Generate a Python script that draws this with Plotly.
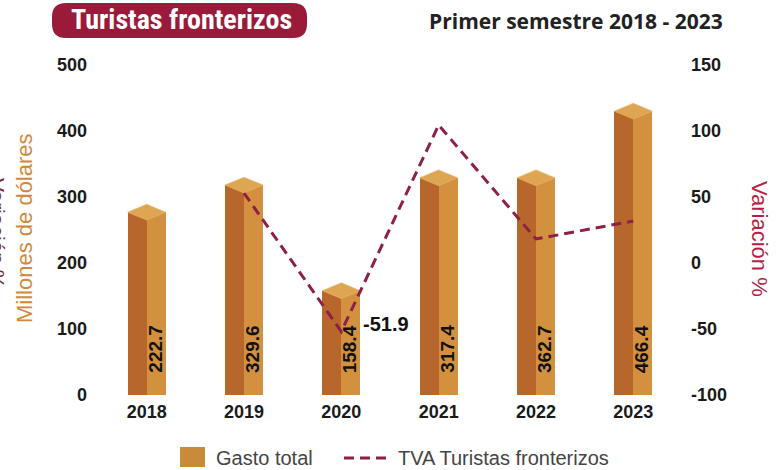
import plotly.graph_objects as go

# ---------------- data ----------------
years = ["2018", "2019", "2020", "2021", "2022", "2023"]
gasto_height = [277, 318, 158, 329, 329, 430]          # bar heights as drawn (left axis)
gasto_labels = ["222.7", "329.6", "158.4", "317.4", "362.7", "466.4"]
tva_years = ["2019", "2020", "2021", "2022", "2023"]
tva_values = [53.0, -51.9, 104.5, 18.2, 31.8]           # right axis, %
tva_label_year = "2020"
tva_label_value = -51.9
left_ticks = [0, 100, 200, 300, 400, 500]
right_ticks = [-100, -50, 0, 50, 100, 150]

# ---------------- geometry helpers ----------------
W, H = 783, 470
L, R, T, B = 98, 682, 65, 395


def px(x):
    return (x - L) / (R - L)


def py(y):
    return (B - y) / (B - T)


xs = list(range(len(years)))
xi = {y: i for i, y in enumerate(years)}
hw = 0.1955      # half bar width in category units
cap_d = 12       # half-height of the top diamond in left-axis units

DARK = "#B7672C"
LIGHT = "#D3903E"
TOP = "#DEA553"
LINE = "#8E1F47"
CRIMSON = "#B81D45"

fig = go.Figure()
fig.add_bar(x=xs, y=gasto_height, width=hw, offset=-hw, marker_color=DARK,
            marker_line_width=0, showlegend=False, hoverinfo="skip")
fig.add_bar(x=xs, y=gasto_height, width=hw, offset=0, marker_color=LIGHT,
            marker_line_width=0, showlegend=False, hoverinfo="skip")

capx, capy = [], []
for i, h in zip(xs, gasto_height):
    capx += [i - hw, i, i + hw, i, i - hw, None]
    capy += [h, h + cap_d, h, h - cap_d, h, None]
fig.add_scatter(x=capx, y=capy, mode="lines", fill="toself", fillcolor=TOP,
                line=dict(width=0.6, color="#E9B66A"), showlegend=False, hoverinfo="skip")

fig.add_scatter(x=[xi[y] for y in tva_years], y=tva_values, yaxis="y2", mode="lines",
                line=dict(color=LINE, width=3, dash="10px,6px"),
                showlegend=False, hoverinfo="skip")

ann = []
for i, lab in zip(xs, gasto_labels):
    ann.append(dict(x=i, y=0, xref="x", yref="y", text=lab, showarrow=False,
                    textangle=-90, xanchor="center", yanchor="bottom",
                    xshift=8, yshift=20,
                    font=dict(family="Liberation Sans", size=19, color="#111", weight="bold")))

ann.append(dict(x=xi[tva_label_year], y=tva_label_value, xref="x", yref="y2",
                text=f"{tva_label_value}", showarrow=False, xanchor="left", yanchor="middle",
                xshift=20, yshift=8,
                font=dict(family="Liberation Sans", size=20, color="#111", weight="bold")))

# axis titles
ann.append(dict(x=px(24), y=py(228), xref="paper", yref="paper", text="Millones de dólares",
                showarrow=False, textangle=-90, xanchor="center", yanchor="middle",
                font=dict(family="Liberation Sans", size=22, color="#D0883A")))
ann.append(dict(x=px(-3), y=py(233), xref="paper", yref="paper", text="Variación %",
                showarrow=False, textangle=90, xanchor="center", yanchor="middle",
                font=dict(family="Liberation Sans", size=21, color="#7B2A3A")))
ann.append(dict(x=px(760), y=py(239), xref="paper", yref="paper", text="Variación %",
                showarrow=False, textangle=90, xanchor="center", yanchor="middle",
                font=dict(family="Liberation Sans", size=22, color=CRIMSON)))

# titles
ann.append(dict(x=px(181), y=py(20), xref="paper", yref="paper", text="Turistas fronterizos",
                showarrow=False, xanchor="center", yanchor="middle",
                font=dict(family="Liberation Sans Narrow, Roboto Condensed, DejaVu Sans Condensed, sans-serif",
                          size=28, color="white", weight="bold")))
ann.append(dict(x=px(576), y=py(21), xref="paper", yref="paper", text="Primer semestre 2018 - 2023",
                showarrow=False, xanchor="center", yanchor="middle",
                font=dict(family="Open Sans", size=21, color="#222", weight="bold")))

# legend (custom)
ann.append(dict(x=px(214), y=py(458), xref="paper", yref="paper", text="Gasto total",
                showarrow=False, xanchor="left", yanchor="middle",
                font=dict(family="Liberation Sans", size=20, color="#444")))
ann.append(dict(x=px(396), y=py(458), xref="paper", yref="paper", text="TVA Turistas fronterizos",
                showarrow=False, xanchor="left", yanchor="middle",
                font=dict(family="Liberation Sans", size=20, color="#444")))

# rounded badge
bx0, bx1, by0, by1, r = 52, 307, 3, 38, 14
path = (f"M {px(bx0 + r)} {py(by0)} L {px(bx1 - r)} {py(by0)} "
        f"Q {px(bx1)} {py(by0)} {px(bx1)} {py(by0 + r)} "
        f"L {px(bx1)} {py(by1 - r)} Q {px(bx1)} {py(by1)} {px(bx1 - r)} {py(by1)} "
        f"L {px(bx0 + r)} {py(by1)} Q {px(bx0)} {py(by1)} {px(bx0)} {py(by1 - r)} "
        f"L {px(bx0)} {py(by0 + r)} Q {px(bx0)} {py(by0)} {px(bx0 + r)} {py(by0)} Z")
shapes = [
    dict(type="path", path=path, xref="paper", yref="paper", fillcolor="#9A1A3A",
         line=dict(width=0), layer="below"),
    dict(type="rect", xref="paper", yref="paper", x0=px(180), x1=px(205), y0=py(467), y1=py(447),
         fillcolor="#C98B3A", line=dict(width=0)),
    dict(type="line", xref="paper", yref="paper", x0=px(344), x1=px(387), y0=py(458), y1=py(458),
         line=dict(color=LINE, width=3, dash="10px,6px")),
]

tickfont = dict(family="Liberation Sans", size=18, color="#1a1a1a", weight="bold")
fig.update_layout(
    width=W, height=H,
    margin=dict(l=L, r=W - R, t=T, b=H - B, pad=0),
    paper_bgcolor="white", plot_bgcolor="white",
    barmode="overlay", bargap=0,
    showlegend=False,
    xaxis=dict(range=[-0.5, len(years) - 0.5], tickvals=xs, ticktext=years, showgrid=False,
               zeroline=False, showline=False, ticks="", tickfont=tickfont, ticklabelstandoff=4),
    yaxis=dict(range=[0, 500], tickvals=left_ticks, ticktext=[str(v) for v in left_ticks],
               showgrid=False, zeroline=False,
               showline=False, ticks="", tickfont=tickfont, ticklabelstandoff=10),
    yaxis2=dict(range=[-100, 150], tickvals=right_ticks, ticktext=[str(v) for v in right_ticks],
                overlaying="y", side="right",
                showgrid=False, zeroline=False, showline=False, ticks="", tickfont=tickfont,
                ticklabelstandoff=8),
    annotations=ann, shapes=shapes,
)

fig.write_html("out.html", config={"displayModeBar": False},
               post_script="document.body.style.margin='0';document.body.style.padding='0';")
